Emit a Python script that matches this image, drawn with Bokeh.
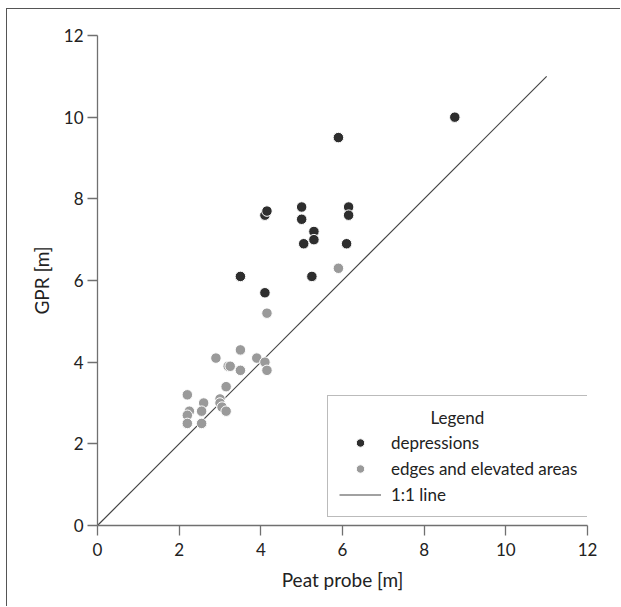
from bokeh.plotting import figure
from bokeh.models import Range1d, FixedTicker, Legend, LegendItem
from bokeh.embed import file_html
from bokeh.resources import INLINE

# depressions
dep_x = [8.75, 5.9, 4.1, 4.15, 5.0, 5.0, 6.15, 6.15, 5.3, 5.3, 5.05, 6.1, 3.5, 5.25, 4.1]
dep_y = [10.0, 9.5, 7.6, 7.7, 7.8, 7.5, 7.8, 7.6, 7.2, 7.0, 6.9, 6.9, 6.1, 6.1, 5.7]

# edges and elevated areas
edge_x = [5.9, 4.15, 3.5, 2.9, 3.9, 3.2, 3.25, 4.1, 3.5, 4.15, 3.15, 2.2, 2.6,
          3.0, 3.0, 3.05, 3.15, 2.25, 2.55, 2.2, 2.2, 2.55]
edge_y = [6.3, 5.2, 4.3, 4.1, 4.1, 3.9, 3.9, 4.0, 3.8, 3.8, 3.4, 3.2, 3.0,
          3.1, 3.0, 2.9, 2.8, 2.8, 2.8, 2.7, 2.5, 2.5]

# 1:1 line
line_x = [0, 11]
line_y = [0, 11]

ticks = [0, 2, 4, 6, 8, 10, 12]

FONT = "Lato"

p = figure(width=614, height=598, output_backend="svg", toolbar_location=None,
           x_range=Range1d(0, 12), y_range=Range1d(0, 12),
           min_border_left=90, min_border_right=34, min_border_top=26, min_border_bottom=82)
p.styles = {"border-top": "1px solid #555", "border-left": "1px solid #555",
            "margin-left": "6px", "margin-top": "8px"}
p.outline_line_color = None
p.xgrid.visible = False
p.ygrid.visible = False

for ax in (p.xaxis[0], p.yaxis[0]):
    ax.ticker = FixedTicker(ticks=ticks)
    ax.axis_line_color = "#707070"
    ax.axis_line_width = 1.3
    ax.major_tick_line_color = "#707070"
    ax.major_tick_line_width = 1.3
    ax.major_tick_out = 10
    ax.major_tick_in = 0
    ax.minor_tick_line_color = None
    ax.major_label_text_font = FONT
    ax.major_label_text_font_size = "17px"
    ax.major_label_text_color = "#222222"
    ax.axis_label_text_font = FONT
    ax.axis_label_text_font_size = "19px"
    ax.axis_label_text_font_style = "normal"
    ax.axis_label_text_color = "#222222"

p.xaxis.axis_label = "Peat probe [m]"
p.yaxis.axis_label = "GPR [m]"
p.xaxis.major_label_standoff = 7
p.yaxis.major_label_standoff = 4
p.xaxis.axis_label_standoff = 9
p.yaxis.axis_label_standoff = 8

ln = p.line(line_x, line_y, line_color="#444444", line_width=1.2)
r_edge = p.scatter(edge_x, edge_y, size=10.5, fill_color="#9a9a9a", line_color="white", line_width=1)
r_dep = p.scatter(dep_x, dep_y, size=10.5, fill_color="#2e2e2e", line_color="white", line_width=1)

legend = Legend(items=[
    LegendItem(label="depressions", renderers=[r_dep]),
    LegendItem(label="edges and elevated areas", renderers=[r_edge]),
    LegendItem(label="1:1 line", renderers=[ln]),
], location=(230, 8))
legend.title = "\u00a0" * 21 + "Legend"
legend.title_text_font = FONT
legend.title_text_font_size = "17px"
legend.title_text_font_style = "normal"
legend.title_text_color = "#222222"
legend.title_standoff = 4
legend.label_text_font = FONT
legend.label_text_font_size = "17px"
legend.label_text_color = "#222222"
legend.border_line_color = "#777777"
legend.border_line_width = 1
legend.background_fill_alpha = 1
legend.padding = 11
legend.margin = 0
legend.spacing = 5
legend.glyph_width = 42
legend.glyph_height = 21
legend.label_height = 21
legend.label_standoff = 10
p.add_layout(legend)

open("out.html", "w").write(file_html(p, INLINE))
